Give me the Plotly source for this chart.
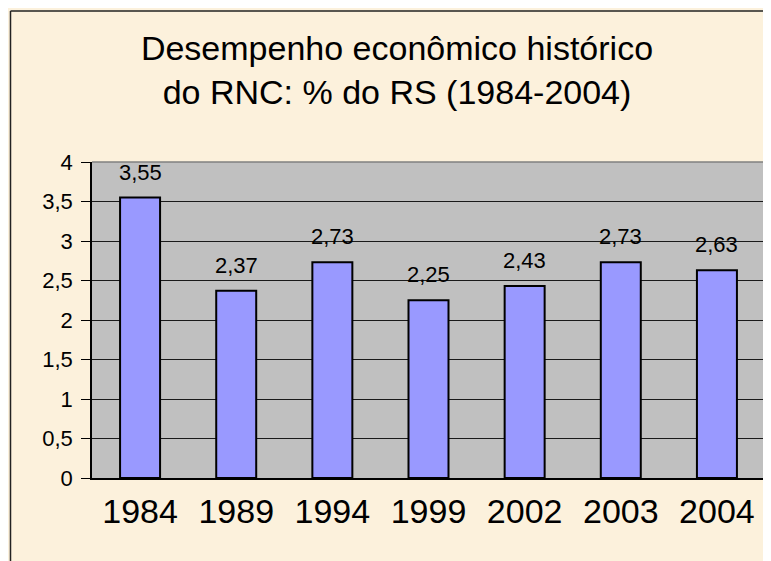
import plotly.graph_objects as go

years = ["1984", "1989", "1994", "1999", "2002", "2003", "2004"]
values = [3.55, 2.37, 2.73, 2.25, 2.43, 2.73, 2.63]
value_labels = ["3,55", "2,37", "2,73", "2,25", "2,43", "2,73", "2,63"]
y_ticks = [0, 0.5, 1, 1.5, 2, 2.5, 3, 3.5, 4]
y_tick_labels = ["0", "0,5", "1", "1,5", "2", "2,5", "3", "3,5", "4"]
title_text = "Desempenho econômico histórico<br>do RNC: % do RS (1984-2004)"

# page has an 8px body margin; figure coordinates = page coordinates - 8
OFF = 8
W, H = 771 - OFF, 561 - OFF
L, R, T, B = 92 - OFF, 6, 162 - OFF, 83
pw, ph = W - L - R, H - T - B

def px_x(x):
    return (x - OFF - L) / pw

def px_y(y):
    return (H - B - (y - OFF)) / ph

font_family = "Arial, Liberation Sans, sans-serif"

fig = go.Figure()
fig.add_trace(go.Bar(
    x=list(range(len(years))), y=values,
    marker=dict(color="#9999FF", line=dict(color="#000000", width=2)),
    hoverinfo="skip",
))

for i, (v, lab) in enumerate(zip(values, value_labels)):
    fig.add_annotation(x=i, y=v, text=lab, showarrow=False,
                       yanchor="bottom", yshift=11,
                       font=dict(family=font_family, size=22, color="#000000"))

fig.update_layout(
    width=W, height=H,
    margin=dict(l=L, r=R, t=T, b=B),
    paper_bgcolor="#FCF1DC",
    plot_bgcolor="#C0C0C0",
    bargap=0.584,
    showlegend=False,
    title=dict(text=title_text, x=(397 - OFF) / W, xanchor="center",
               y=1 - 52 / H, yanchor="top",
               font=dict(family=font_family, size=34, color="#000000")),
    xaxis=dict(
        range=[-0.5, len(years) - 0.5],
        tickvals=list(range(len(years))), ticktext=years,
        showgrid=False, showline=True, linecolor="#000000", linewidth=1.5,
        ticks="", tickfont=dict(family=font_family, size=34, color="#000000"),
        ticklabelstandoff=2, zeroline=False,
    ),
    yaxis=dict(
        range=[0, 4], tickvals=y_ticks, ticktext=y_tick_labels,
        showgrid=True, gridcolor="#1a1a1a", gridwidth=1,
        showline=True, linecolor="#000000", linewidth=1.5,
        ticks="outside", ticklen=9, tickcolor="#000000", tickwidth=1,
        tickfont=dict(family=font_family, size=22, color="#000000"),
        ticklabelstandoff=4, zeroline=False,
    ),
    shapes=[
        dict(type="line", xref="paper", yref="paper", x0=0, x1=1, y0=1, y1=1,
             line=dict(color="#808080", width=1.5)),
        dict(type="line", xref="paper", yref="paper", x0=1, x1=1, y0=0, y1=1,
             line=dict(color="#808080", width=1.5)),
        dict(type="line", xref="paper", yref="paper", x0=px_x(10.5), x1=px_x(10.5),
             y0=px_y(11), y1=px_y(575), line=dict(color="#222222", width=1.5)),
        dict(type="line", xref="paper", yref="paper", x0=px_x(10.5), x1=px_x(790),
             y0=px_y(11), y1=px_y(11), line=dict(color="#222222", width=1.5)),
    ],
)

fig.write_html("out.html")
